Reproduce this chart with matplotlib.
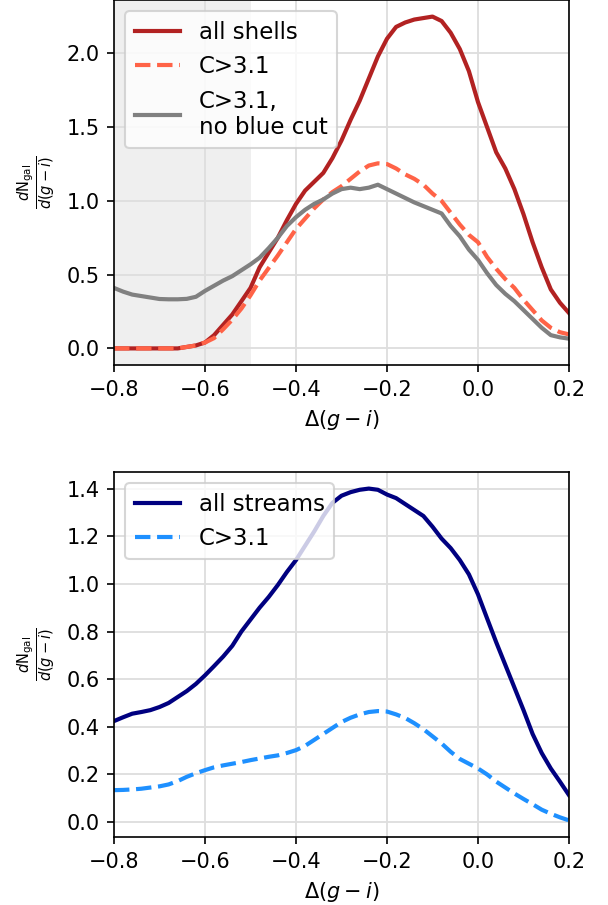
import numpy as np
import matplotlib
matplotlib.use("Agg")
import matplotlib.pyplot as plt

# common colour grid
x = np.round(np.arange(-0.80, 0.2001, 0.02), 2)

shells_all = [0, 0, 0, 0, 0, 0, 0, 0, 0.01, 0.02, 0.04, 0.09, 0.16, 0.23, 0.32,
              0.41, 0.55, 0.65, 0.75, 0.87, 0.98, 1.07, 1.13, 1.19, 1.29, 1.41,
              1.55, 1.68, 1.83, 1.98, 2.10, 2.18, 2.21, 2.23, 2.24, 2.25, 2.22,
              2.14, 2.03, 1.88, 1.67, 1.50, 1.33, 1.22, 1.08, 0.91, 0.72, 0.55,
              0.40, 0.31, 0.24]
shells_c31 = [0, 0, 0, 0, 0, 0, 0, 0, 0.01, 0.02, 0.04, 0.07, 0.13, 0.195, 0.27,
              0.36, 0.46, 0.545, 0.63, 0.72, 0.81, 0.88, 0.95, 1.01, 1.06, 1.10,
              1.15, 1.20, 1.24, 1.255, 1.25, 1.22, 1.18, 1.15, 1.11, 1.05, 1.00,
              0.92, 0.84, 0.77, 0.72, 0.62, 0.54, 0.47, 0.41, 0.33, 0.26, 0.19,
              0.14, 0.11, 0.095]
shells_noblue = [0.41, 0.385, 0.365, 0.355, 0.345, 0.335, 0.333, 0.333, 0.336,
                 0.35, 0.39, 0.425, 0.46, 0.49, 0.53, 0.57, 0.615, 0.68, 0.75,
                 0.83, 0.89, 0.94, 0.98, 1.01, 1.05, 1.08, 1.09, 1.08, 1.09,
                 1.11, 1.08, 1.05, 1.02, 0.99, 0.965, 0.94, 0.915, 0.83, 0.76,
                 0.67, 0.60, 0.51, 0.43, 0.37, 0.32, 0.26, 0.20, 0.14, 0.09,
                 0.075, 0.066]

streams_all = [0.424, 0.44, 0.455, 0.462, 0.47, 0.483, 0.50, 0.525, 0.55, 0.58,
               0.616, 0.655, 0.695, 0.74, 0.80, 0.85, 0.90, 0.945, 0.995, 1.05,
               1.10, 1.16, 1.22, 1.285, 1.34, 1.37, 1.385, 1.395, 1.40, 1.395,
               1.375, 1.36, 1.335, 1.31, 1.285, 1.24, 1.19, 1.15, 1.10, 1.04,
               0.956, 0.855, 0.755, 0.66, 0.565, 0.47, 0.37, 0.29, 0.225, 0.17,
               0.113]
streams_c31 = [0.134, 0.135, 0.137, 0.14, 0.145, 0.15, 0.158, 0.172, 0.19, 0.205,
               0.218, 0.23, 0.238, 0.245, 0.252, 0.26, 0.267, 0.274, 0.28, 0.29,
               0.302, 0.32, 0.345, 0.37, 0.395, 0.42, 0.438, 0.452, 0.462, 0.466,
               0.464, 0.452, 0.437, 0.415, 0.39, 0.36, 0.33, 0.295, 0.265, 0.245,
               0.225, 0.20, 0.17, 0.145, 0.12, 0.097, 0.075, 0.052, 0.035, 0.02,
               0.007]

xticks = [-0.8, -0.6, -0.4, -0.2, 0.0, 0.2]
blue_cut = (-0.8, -0.5)

plt.rcParams['font.size'] = 10
fig = plt.figure(figsize=(608 / 150, 905 / 150), dpi=150)
ax1 = fig.add_axes([114 / 608, 1 - 365 / 905, 455 / 608, 365 / 905])
ax2 = fig.add_axes([114 / 608, 1 - 837 / 905, 455 / 608, 365 / 905])

ylab = r'$\frac{d\mathrm{N_{gal}}}{d(g-i)}$'

ax1.axvspan(*blue_cut, color='grey', alpha=0.12, lw=0, zorder=0.4)
ax1.plot(x, shells_all, color='firebrick', lw=2, label='all shells')
ax1.plot(x, shells_c31, color='tomato', lw=2, ls='--', label='C>3.1')
ax1.plot(x, shells_noblue, color='grey', lw=2, label='C>3.1,\nno blue cut')
ax1.legend(loc='upper left', fontsize=11)

ax2.plot(x, streams_all, color='navy', lw=2, label='all streams')
ax2.plot(x, streams_c31, color='dodgerblue', lw=2, ls='--', label='C>3.1')
ax2.legend(loc='upper left', fontsize=11)

for ax in (ax1, ax2):
    ax.set_xlim(-0.8, 0.2)
    ax.set_xticks(xticks)
    ax.set_axisbelow(True)
    ax.grid(color='0.87', lw=0.9)
    ax.set_xlabel(r'$\Delta(g-i)$')
    ax.set_ylabel(ylab)

fig.savefig('out.png', dpi=150)
